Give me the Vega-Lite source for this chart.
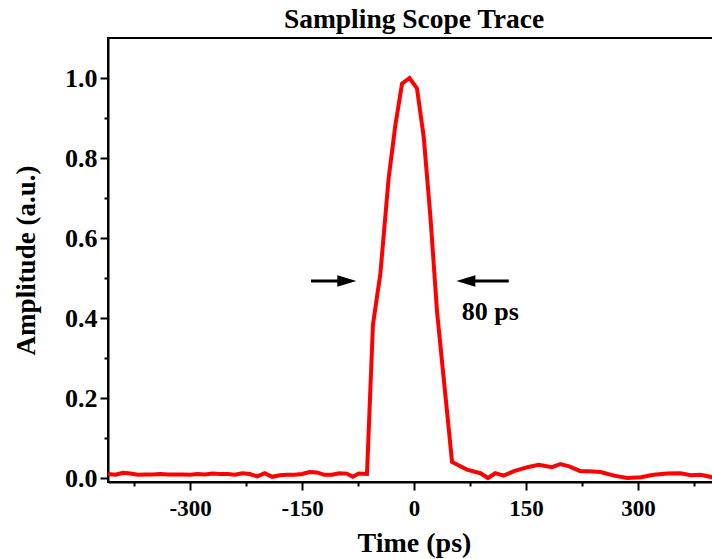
{
  "$schema": "https://vega.github.io/schema/vega-lite/v6.json",
  "width": 612,
  "height": 444,
  "autosize": {"type": "none"},
  "padding": {"left": 108, "top": 38, "right": 0, "bottom": 77},
  "background": "white",
  "title": {"text": "Sampling Scope Trace", "font": "Liberation Serif", "fontSize": 27.5, "fontWeight": "bold", "color": "black", "anchor": "middle", "baseline": "alphabetic", "offset": 9, "dy": 26},
  "config": {
    "font": "Liberation Serif",
    "view": {"stroke": "black", "strokeWidth": 2},
    "axis": {"domainColor": "black", "domainWidth": 2, "tickColor": "black", "tickWidth": 2, "labelFont": "Liberation Serif", "labelFontWeight": "bold", "labelColor": "black", "titleFont": "Liberation Serif", "titleFontWeight": "bold", "titleColor": "black", "grid": false, "labelOverlap": false, "labelFlush": false}
  },
  "datasets": {
    "trace": [
      {"t": -410, "a": 0.010}, {"t": -400, "a": 0.008}, {"t": -390, "a": 0.013}, {"t": -380, "a": 0.011},
      {"t": -370, "a": 0.008}, {"t": -360, "a": 0.009}, {"t": -350, "a": 0.009}, {"t": -340, "a": 0.010},
      {"t": -330, "a": 0.009}, {"t": -320, "a": 0.009}, {"t": -310, "a": 0.009}, {"t": -300, "a": 0.008},
      {"t": -290, "a": 0.010}, {"t": -280, "a": 0.009}, {"t": -270, "a": 0.011}, {"t": -260, "a": 0.010},
      {"t": -250, "a": 0.010}, {"t": -240, "a": 0.008}, {"t": -230, "a": 0.012}, {"t": -220, "a": 0.010},
      {"t": -210, "a": 0.004}, {"t": -200, "a": 0.012}, {"t": -190, "a": 0.003}, {"t": -180, "a": 0.007},
      {"t": -170, "a": 0.008}, {"t": -160, "a": 0.008}, {"t": -150, "a": 0.010}, {"t": -140, "a": 0.015},
      {"t": -130, "a": 0.014}, {"t": -120, "a": 0.008}, {"t": -110, "a": 0.008}, {"t": -100, "a": 0.012},
      {"t": -90, "a": 0.011}, {"t": -82, "a": 0.003}, {"t": -74, "a": 0.011}, {"t": -63, "a": 0.010},
      {"t": -55, "a": 0.383}, {"t": -45, "a": 0.512}, {"t": -34, "a": 0.749}, {"t": -25, "a": 0.882},
      {"t": -16, "a": 0.986}, {"t": -6, "a": 1.0}, {"t": 4, "a": 0.974}, {"t": 13, "a": 0.853},
      {"t": 22, "a": 0.653}, {"t": 31, "a": 0.413}, {"t": 51, "a": 0.040}, {"t": 71, "a": 0.021},
      {"t": 89, "a": 0.012}, {"t": 99, "a": 0.0}, {"t": 109, "a": 0.012}, {"t": 120, "a": 0.006},
      {"t": 134, "a": 0.017}, {"t": 152, "a": 0.027}, {"t": 167, "a": 0.033}, {"t": 185, "a": 0.027},
      {"t": 196, "a": 0.035}, {"t": 208, "a": 0.029}, {"t": 223, "a": 0.017}, {"t": 234, "a": 0.017},
      {"t": 250, "a": 0.015}, {"t": 268, "a": 0.006}, {"t": 286, "a": 0.0}, {"t": 304, "a": 0.002},
      {"t": 321, "a": 0.008}, {"t": 339, "a": 0.011}, {"t": 357, "a": 0.012}, {"t": 371, "a": 0.007},
      {"t": 384, "a": 0.008}, {"t": 400, "a": 0.002}, {"t": 410, "a": 0.004}
    ],
    "arrows": [
      {"t": -138, "t2": -95, "a": 0.4925, "hx": -90, "dir": "right"},
      {"t": 127, "t2": 78, "a": 0.4925, "hx": 69.5, "dir": "left"}
    ],
    "labels": [
      {"t": 64, "a": 0.395, "text": "80 ps"}
    ]
  },
  "encoding": {
    "x": {"field": "t", "type": "quantitative", "scale": {"domain": [-410, 410], "nice": false, "zero": false},
      "axis": {"orient": "bottom", "values": [-375, -300, -225, -150, -75, 0, 75, 150, 225, 300, 375],
        "labelExpr": "datum.value % 150 == 0 ? '' + datum.value : ''",
        "tickSize": {"condition": {"test": "datum.value % 150 == 0", "value": 8}, "value": 4},
        "labelFontSize": 23, "labelPadding": 7, "title": "Time (ps)", "titleFontSize": 28, "titlePadding": 9}},
    "y": {"field": "a", "type": "quantitative", "scale": {"domain": [-0.01, 1.1], "nice": false, "zero": false},
      "axis": {"orient": "left", "values": [0, 0.1, 0.2, 0.3, 0.4, 0.5, 0.6, 0.7, 0.8, 0.9, 1.0],
        "labelExpr": "round(datum.value * 10) % 2 == 0 ? format(datum.value, '.1f') : ''",
        "tickSize": {"condition": {"test": "round(datum.value * 10) % 2 == 0", "value": 8}, "value": 4},
        "labelFontSize": 26, "labelPadding": 3, "title": "Amplitude (a.u.)", "titleFontSize": 27, "titlePadding": 24}}
  },
  "layer": [
    {
      "data": {"name": "trace"},
      "mark": {"type": "line", "color": "#ff0000", "strokeWidth": 4, "clip": true}
    },
    {
      "data": {"name": "arrows"},
      "mark": {"type": "rule", "color": "black", "strokeWidth": 3},
      "encoding": {"x2": {"field": "t2"}}
    },
    {
      "data": {"name": "arrows"},
      "mark": {"type": "point", "filled": true, "color": "black", "opacity": 1, "size": 361},
      "encoding": {
        "x": {"field": "hx", "type": "quantitative"},
        "shape": {"field": "dir", "type": "nominal", "legend": null,
          "scale": {"domain": ["right", "left"], "range": ["M-1,-0.6L1,0L-1,0.6Z", "M1,-0.6L-1,0L1,0.6Z"]}}
      }
    },
    {
      "data": {"name": "labels"},
      "mark": {"type": "text", "font": "Liberation Serif", "fontSize": 26, "fontWeight": "bold", "color": "black", "align": "left", "baseline": "alphabetic"},
      "encoding": {"text": {"field": "text"}}
    }
  ]
}
